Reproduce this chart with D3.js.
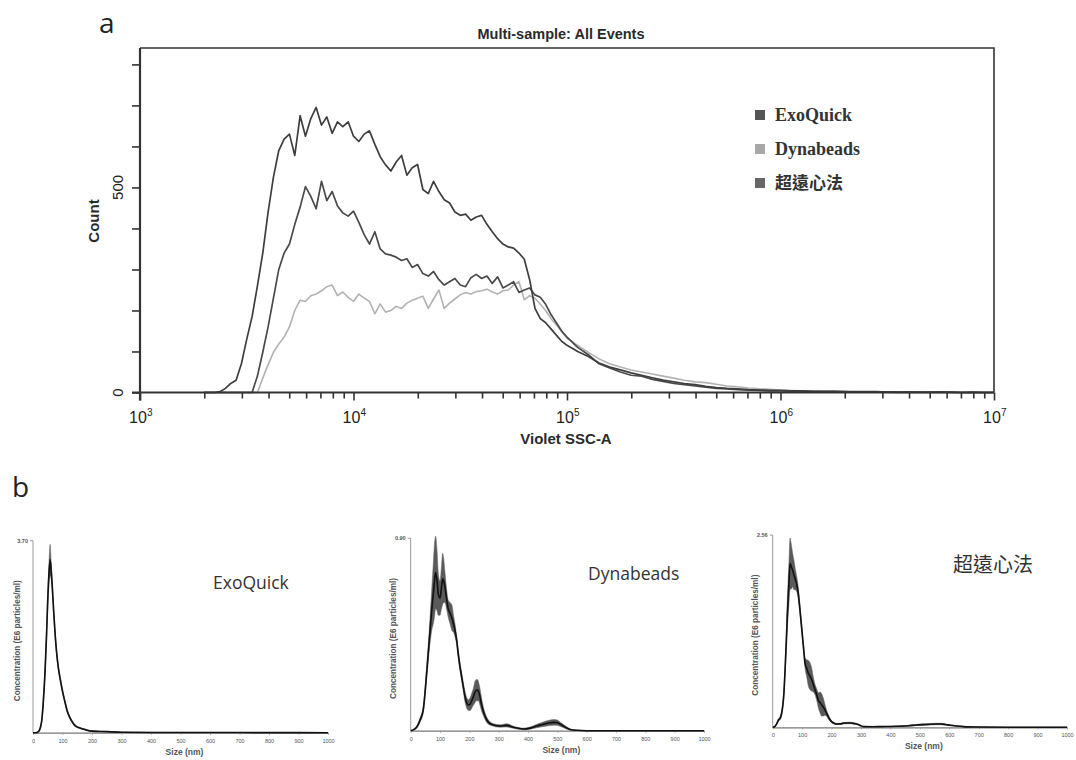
<!DOCTYPE html>
<html><head><meta charset="utf-8">
<script src="https://cdn.jsdelivr.net/npm/d3@7"></script>
<style>body{margin:0;background:#fff}svg{display:block}</style>
</head><body>
<svg id="c" width="1076" height="760"></svg>
<script>
// ---------- Panel a data ----------
const seriesNames = ["ExoQuick", "Dynabeads", "超遠心法"];
const legendColors = ["#555555", "#a8a8a8", "#666666"];
const decadeLabels = [3, 4, 5, 6, 7];
const countTicks = [0, 100, 200, 300, 400, 500, 600, 700, 800];
const countLabels = [0, 500];
// bin positions, log10(Violet SSC-A)
const sscLog = [3.300,3.325,3.350,3.375,3.400,3.425,3.450,3.475,3.500,3.525,3.550,3.575,3.600,3.625,3.650,3.675,3.700,3.725,3.750,3.775,3.800,3.825,3.850,3.875,3.900,3.925,3.950,3.975,4.000,4.025,4.050,4.075,4.100,4.125,4.150,4.175,4.200,4.225,4.250,4.275,4.300,4.325,4.350,4.375,4.400,4.425,4.450,4.475,4.500,4.525,4.550,4.575,4.600,4.625,4.650,4.675,4.700,4.725,4.750,4.775,4.800,4.825,4.850,4.875,4.900,4.925,4.950,4.975,5.000,
5.05,5.10,5.15,5.20,5.25,5.30,5.35,5.40,5.45,5.50,5.55,5.60,5.65,5.70,5.75,5.80,5.85,5.90,5.95,6.00,6.05,6.10,6.15,6.20,6.25,6.30,6.35,6.40,6.45,6.50,6.55,6.60,6.65,6.70,6.75,6.80,6.85,6.90,6.95,7.00];
const countExoQuick = [0,0,0,2,10,22,30,70,130,185,260,340,440,525,590,618,630,578,675,625,668,695,652,672,632,660,648,660,625,612,630,638,605,575,555,540,562,578,530,548,556,495,485,515,490,470,462,440,432,435,420,428,432,410,392,375,362,355,352,340,325,275,205,180,170,155,140,125,115,
100,88,72,62,55,48,42,36,30,26,22,19,15,12,10,9,7,6,5,5,4,4,3,3,3,2,2,2,2,1,1,1,1,1,1,1,0,1,0,0];
const countUltra = [0,0,0,0,0,0,0,0,0,0,40,98,160,230,300,340,362,410,452,502,478,448,515,468,490,455,438,430,442,415,385,362,392,350,338,335,330,322,326,305,312,290,284,295,275,262,270,278,262,258,280,288,278,284,266,282,255,262,270,244,250,255,238,232,215,190,170,150,135,
110,92,70,60,50,42,40,32,27,22,19,16,13,10,9,7,6,5,4,4,3,3,2,2,2,2,1,1,1,1,0,1,0,0,1,0,0,0,0,0];
const countDyna = [0,0,0,0,0,0,0,0,0,0,0,35,68,98,118,135,160,200,225,222,236,240,248,258,262,236,245,232,222,240,230,222,192,216,196,200,210,205,218,225,230,235,205,228,250,205,218,228,238,244,240,246,248,252,245,240,248,250,262,270,226,236,230,215,200,180,165,148,132,
115,98,82,70,62,55,50,45,40,35,30,26,24,20,16,14,11,9,8,6,5,4,4,3,3,2,2,2,1,1,1,1,1,1,1,1,0,0,0,0];

// ---------- Panel b data ----------
const sizeTicks = [0,100,200,300,400,500,600,700,800,900,1000];
const exoSize = [0,10,18,25,30,35,41,46,50,54,58,62,66,70,75,80,86,92,100,108,116,125,134,142,150,160,170,182,200,250,300,400,600,800,1000];
const exoMean = [0,0,0.02,0.1,0.25,0.6,1.2,1.9,2.56,3.05,3.33,3.1,2.75,2.35,1.9,1.55,1.25,1.04,0.8,0.6,0.42,0.29,0.2,0.14,0.11,0.09,0.07,0.05,0.03,0.02,0.01,0.005,0.003,0.002,0];
const exoErr  = [0,0,0.01,0.03,0.05,0.08,0.1,0.12,0.15,0.2,0.3,0.15,0.1,0.08,0.07,0.06,0.05,0.04,0.04,0.03,0.03,0.02,0.02,0.02,0.01,0.01,0.01,0.01,0.01,0.005,0.005,0.003,0.002,0.001,0];

const dynaSize = [0,10,20,32,43,55,66,72,77,81,85,90,94,100,105,109,113,117,122,128,134,140,146,151,157,162,168,174,180,185,191,197,203,208,214,219,224,227,231,236,242,248,256,265,282,305,327,350,384,407,430,447,464,475,486,497,509,525,543,566,600,700,800,900,1000];
const dynaMean = [0,0.005,0.016,0.05,0.10,0.28,0.47,0.57,0.64,0.70,0.74,0.70,0.64,0.62,0.67,0.71,0.70,0.67,0.62,0.57,0.55,0.53,0.50,0.47,0.42,0.36,0.30,0.25,0.20,0.16,0.13,0.12,0.125,0.14,0.16,0.18,0.19,0.19,0.185,0.16,0.12,0.09,0.06,0.04,0.027,0.022,0.025,0.016,0.008,0.012,0.022,0.028,0.034,0.037,0.039,0.038,0.031,0.018,0.006,0.002,0,0,0,0,0];
const dynaErr  = [0,0.003,0.005,0.01,0.015,0.03,0.06,0.10,0.14,0.17,0.17,0.14,0.10,0.08,0.10,0.12,0.10,0.07,0.05,0.04,0.05,0.06,0.04,0.03,0.02,0.02,0.02,0.02,0.02,0.025,0.025,0.025,0.03,0.035,0.04,0.05,0.05,0.05,0.045,0.04,0.03,0.02,0.015,0.01,0.006,0.006,0.008,0.005,0.004,0.005,0.008,0.01,0.012,0.013,0.013,0.013,0.01,0.007,0.003,0.001,0,0,0,0,0];

const ultraSize = [0,7,14,20,25,30,34,38,42,46,50,55,59,63,68,72,76,82,87,93,99,105,110,116,121,127,133,138,144,150,155,161,166,172,178,184,189,195,200,208,217,228,240,252,263,275,285,297,308,340,365,400,421,460,489,512,535,552,569,586,603,625,648,700,800,900,1000];
const ultraMean = [0,0.01,0.05,0.1,0.12,0.18,0.28,0.45,0.76,1.12,1.52,1.9,2.18,2.14,2.09,2.03,1.98,1.9,1.78,1.55,1.30,1.05,0.85,0.78,0.72,0.68,0.63,0.57,0.50,0.43,0.36,0.33,0.30,0.27,0.23,0.18,0.14,0.10,0.075,0.055,0.044,0.045,0.053,0.057,0.058,0.052,0.044,0.025,0.009,0.008,0.009,0.011,0.013,0.02,0.031,0.036,0.04,0.043,0.044,0.038,0.027,0.017,0.009,0.003,0,0,0];
const ultraErr  = [0,0.005,0.01,0.015,0.02,0.03,0.04,0.06,0.08,0.12,0.2,0.28,0.34,0.3,0.22,0.2,0.15,0.1,0.08,0.06,0.05,0.05,0.07,0.12,0.17,0.18,0.15,0.1,0.07,0.08,0.1,0.14,0.15,0.12,0.07,0.04,0.03,0.02,0.015,0.01,0.008,0.008,0.01,0.01,0.01,0.01,0.008,0.006,0.004,0.004,0.004,0.004,0.005,0.006,0.008,0.01,0.01,0.01,0.01,0.008,0.006,0.004,0.003,0.001,0,0,0];

// ---------- drawing ----------
const svg = d3.select("#c");
const SANS = "'Liberation Sans', Arial, sans-serif";

// panel letters
svg.append("text").attr("x", 99).attr("y", 33).text("a")
  .style("font-family", "'Open Sans', sans-serif").style("font-size", "28px").attr("fill", "#222");
svg.append("text").attr("x", 12).attr("y", 497).text("b")
  .style("font-family", "'Open Sans', sans-serif").style("font-size", "28px").attr("fill", "#222");

// Panel a
const L = 140, R = 994, T = 48, B = 392.5;
const x = d3.scaleLog().domain([1e3, 1e7]).range([L, R]);
const y = d3.scaleLinear().domain([0, 840]).range([B, T]);
const ga = svg.append("g");

// frame top/right
ga.append("path").attr("d", `M${L},${T}H${R}V${B}`).attr("fill", "none").attr("stroke", "#333").attr("stroke-width", 1.6);

// curves
const line = d3.line().x(d => x(Math.pow(10, d[0]))).y(d => y(d[1])).curve(d3.curveLinear);
const curves = [
  {vals: countDyna, color: "#b2b2b2", w: 1.6},
  {vals: countUltra, color: "#4a4a4a", w: 1.7},
  {vals: countExoQuick, color: "#3e3e3e", w: 1.7}
];
curves.forEach(c => {
  ga.append("path").datum(sscLog.map((v, i) => [v, c.vals[i]]))
    .attr("d", line).attr("fill", "none").attr("stroke", c.color).attr("stroke-width", c.w)
    .attr("stroke-linejoin", "round");
});

// axes
const xAxis = d3.axisBottom(x).tickValues(x.ticks()).tickFormat("").tickSizeOuter(0)
  .tickSize(7);
const gx = ga.append("g").attr("transform", `translate(0,${B})`).call(xAxis);
gx.select(".domain").remove();
gx.selectAll(".tick line").attr("stroke", "#333").attr("stroke-width", 1.6)
  .attr("y2", d => (Math.abs(Math.log10(d) - Math.round(Math.log10(d))) < 1e-6 ? 8 : 6));
ga.append("line").attr("x1", L - 8).attr("x2", R).attr("y1", B).attr("y2", B).attr("stroke", "#333").attr("stroke-width", 2.2);

const yAxis = d3.axisLeft(y).tickValues(countTicks).tickFormat("").tickSize(8).tickSizeOuter(0);
const gy = ga.append("g").attr("transform", `translate(${L},0)`).call(yAxis);
gy.select(".domain").remove();
gy.selectAll(".tick line").attr("stroke", "#333").attr("stroke-width", 1.6);
ga.append("line").attr("x1", L).attr("x2", L).attr("y1", T).attr("y2", B + 8).attr("stroke", "#333").attr("stroke-width", 2.2);

// x tick labels 10^n
decadeLabels.forEach(p => {
  const px = x(Math.pow(10, p));
  ga.append("text").attr("x", px - 2).attr("y", 423).attr("text-anchor", "middle")
    .style("font-family", SANS).style("font-size", "16px").attr("fill", "#222").text("10");
  ga.append("text").attr("x", px + 7).attr("y", 416).attr("text-anchor", "start")
    .style("font-family", SANS).style("font-size", "10px").attr("fill", "#222").text(p);
});
// y tick labels rotated
countLabels.forEach(v => {
  ga.append("text").attr("transform", `translate(123,${y(v)}) rotate(-90)`).attr("text-anchor", "middle")
    .style("font-family", SANS).style("font-size", "15px").attr("fill", "#222").text(v);
});
// titles
ga.append("text").attr("x", 561).attr("y", 39).attr("text-anchor", "middle")
  .style("font-family", SANS).style("font-size", "14.5px").style("font-weight", "bold").attr("fill", "#2a2a2a")
  .text("Multi-sample: All Events");
ga.append("text").attr("x", 566).attr("y", 444).attr("text-anchor", "middle")
  .style("font-family", SANS).style("font-size", "15px").style("font-weight", "bold").attr("fill", "#2a2a2a")
  .text("Violet SSC-A");
ga.append("text").attr("transform", "translate(99,221) rotate(-90)").attr("text-anchor", "middle")
  .style("font-family", SANS).style("font-size", "15px").style("font-weight", "bold").attr("fill", "#2a2a2a")
  .text("Count");

// legend
const legY = [115, 149, 183];
seriesNames.forEach((n, i) => {
  ga.append("rect").attr("x", 755).attr("y", legY[i] - 5).attr("width", 10).attr("height", 10).attr("fill", legendColors[i]);
  ga.append("text").attr("x", 775).attr("y", legY[i] + 6)
    .style("font-family", i === 2 ? "'Noto Sans CJK TC', 'Noto Sans CJK SC', serif" : "'Liberation Serif', 'Times New Roman', serif")
    .style("font-size", i === 2 ? "17px" : "18px").style("font-weight", "bold").attr("fill", "#333").text(n);
});

// Panel b
function nta(cfg) {
  const g = svg.append("g");
  const xs = d3.scaleLinear().domain([0, 1000]).range([cfg.x0, cfg.x1]);
  const ys = d3.scaleLinear().domain([0, cfg.max]).range([cfg.y1, cfg.y0]);
  g.append("line").attr("x1", cfg.x0).attr("x2", cfg.x0).attr("y1", cfg.y0).attr("y2", cfg.y1).attr("stroke", "#999").attr("stroke-width", 1);
  g.append("line").attr("x1", cfg.x0 - 3).attr("x2", cfg.x0).attr("y1", cfg.y0).attr("y2", cfg.y0).attr("stroke", "#999").attr("stroke-width", 1);
  const ax = d3.axisBottom(xs).tickValues(sizeTicks).tickFormat(d3.format("d")).tickSize(2).tickSizeOuter(0);
  const gxa = g.append("g").attr("transform", `translate(0,${cfg.y1})`).call(ax);
  gxa.select(".domain").attr("stroke", "#777").attr("stroke-width", 1.2);
  gxa.selectAll(".tick line").attr("stroke", "#999");
  gxa.selectAll(".tick text").style("font-family", SANS).style("font-size", "5.5px").attr("fill", "#555").attr("dy", "0.9em");
  g.append("text").attr("x", cfg.x0 - 5).attr("y", cfg.y0 + 2).attr("text-anchor", "end")
    .style("font-family", SANS).style("font-size", "5.5px").style("font-weight", "bold").attr("fill", "#555").text(cfg.maxLabel);
  const pts = cfg.size.map((s, i) => ({s, m: cfg.mean[i], e: cfg.err[i]}));
  g.append("path").datum(pts)
    .attr("d", d3.area().x(d => xs(d.s)).y0(d => ys(Math.max(0, d.m - d.e))).y1(d => ys(d.m + d.e)).curve(d3.curveMonotoneX))
    .attr("fill", "#5a5a5a").attr("stroke", "#666").attr("stroke-width", 0.5);
  g.append("path").datum(pts)
    .attr("d", d3.line().x(d => xs(d.s)).y(d => ys(d.m)).curve(d3.curveMonotoneX))
    .attr("fill", "none").attr("stroke", "#111").attr("stroke-width", 1.6);
  g.append("text").attr("x", (cfg.x0 + cfg.x1) / 2 + 4).attr("y", cfg.y1 + 22).attr("text-anchor", "middle")
    .style("font-family", SANS).style("font-size", "8.5px").style("font-weight", "bold").attr("fill", "#555").text("Size (nm)");
  g.append("text").attr("transform", `translate(${cfg.ylx},${(cfg.y0 + cfg.y1) / 2 + 4}) rotate(-90)`).attr("text-anchor", "middle")
    .style("font-family", SANS).style("font-size", "8.2px").style("font-weight", "bold").attr("fill", "#555").text("Concentration (E6 particles/ml)");
  g.append("text").attr("x", cfg.lx).attr("y", cfg.ly).attr("text-anchor", "start")
    .style("font-family", cfg.cjk ? "'Noto Sans CJK TC', 'Noto Sans CJK SC', sans-serif" : "'Open Sans', sans-serif")
    .style("font-size", cfg.cjk ? "20px" : "17.5px").attr("fill", "#333").text(cfg.label);
}
nta({x0: 33, x1: 328, y0: 540.7, y1: 732.7, max: 3.70, maxLabel: "3.70", size: exoSize, mean: exoMean, err: exoErr,
     label: "ExoQuick", lx: 213, ly: 589, ylx: 20});
nta({x0: 410.7, x1: 704, y0: 538.3, y1: 730.7, max: 0.90, maxLabel: "0.90", size: dynaSize, mean: dynaMean, err: dynaErr,
     label: "Dynabeads", lx: 588, ly: 580, ylx: 396});
nta({x0: 772.7, x1: 1067, y0: 535, y1: 727.3, max: 2.56, maxLabel: "2.56", size: ultraSize, mean: ultraMean, err: ultraErr,
     label: "超遠心法", lx: 953, ly: 572, ylx: 758, cjk: true});
</script>
</body></html>
